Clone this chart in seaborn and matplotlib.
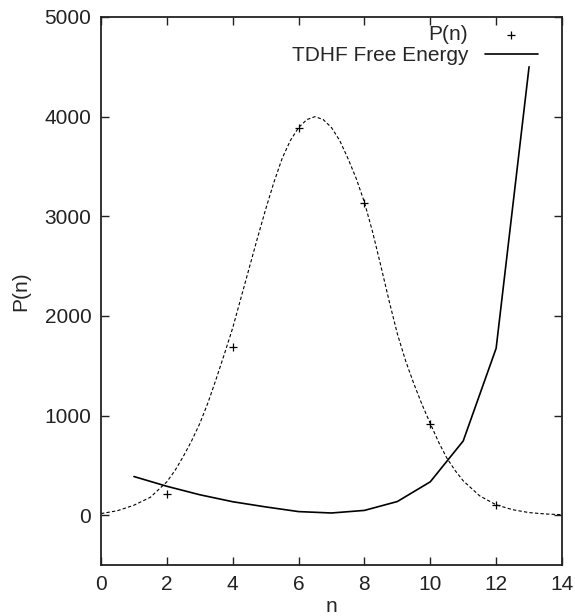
import numpy as np
import pandas as pd
import matplotlib
matplotlib.use("Agg")
import matplotlib.pyplot as plt
import seaborn as sns

# Measured P(n) points
n_points = [2, 4, 6, 8, 10, 12]
p_points = [210, 1690, 3890, 3135, 920, 104]

# TDHF free energy (solid line)
n_tdhf = [1, 2, 3, 4, 5, 6, 7, 8, 9, 10, 11, 12, 13]
e_tdhf = [388, 290, 205, 135, 83, 36, 22, 48, 137, 335, 745, 1675, 4500]

# Fitted curve (dashed)
n_fit = [0, 0.5, 1, 1.5, 2, 2.25, 2.5, 2.75, 3, 3.25, 3.5, 3.75, 4, 4.25, 4.5, 4.75,
         5, 5.25, 5.5, 5.75, 6, 6.25, 6.5, 6.75, 7, 7.25, 7.5, 7.75, 8, 8.25, 8.5,
         8.75, 9, 9.25, 9.5, 9.75, 10, 10.25, 10.5, 10.75, 11, 11.5, 12, 12.5, 13,
         13.5, 14]
p_fit = [16, 45, 100, 180, 335, 450, 590, 745, 920, 1130, 1370, 1620, 1880, 2180, 2480, 2780,
         3070, 3340, 3580, 3760, 3890, 3970, 4000, 3970, 3890, 3760, 3580, 3380, 3140, 2840, 2500,
         2150, 1820, 1550, 1320, 1110, 920, 735, 575, 450, 345, 194, 104, 55, 26,
         12, 5]

x_ticks = [0, 2, 4, 6, 8, 10, 12, 14]
y_ticks = [0, 1000, 2000, 3000, 4000, 5000]

sns.set_theme(style="ticks")
plt.rcParams['font.family'] = ['Liberation Sans', 'DejaVu Sans']

fig = plt.figure(figsize=(5.75, 6.16), dpi=100)
ax = fig.add_axes([101/575, 1-565/616, 461/575, 548/616])

fit_df = pd.DataFrame({"n": n_fit, "P": p_fit})
tdhf_df = pd.DataFrame({"n": n_tdhf, "E": e_tdhf})
pts_df = pd.DataFrame({"n": n_points, "P": p_points})

sns.lineplot(data=fit_df, x="n", y="P", ax=ax, color="black", lw=0.8,
             linestyle=(0, (3, 2)), legend=False)
sns.lineplot(data=tdhf_df, x="n", y="E", ax=ax, color="black", lw=1.2,
             label="TDHF Free Energy")
sns.scatterplot(data=pts_df, x="n", y="P", ax=ax, marker="+", color="black",
                s=40, linewidth=0.9, label="P(n)", zorder=5)

ax.set_xlim(0, 14)
ax.set_ylim(-500, 5000)
ax.set_xticks(x_ticks)
ax.set_yticks(y_ticks)
ax.set_xlabel("n", fontsize=15, labelpad=2)
ax.set_ylabel("P(n)", fontsize=15, labelpad=10)
ax.tick_params(axis="both", which="both", direction="in", length=6, width=1,
               top=True, right=True, labelsize=15, colors="#222222", pad=7)
for sp in ax.spines.values():
    sp.set_visible(True)
    sp.set_linewidth(1.3)
    sp.set_color("#222222")

h, l = ax.get_legend_handles_labels()
order = [l.index("P(n)"), l.index("TDHF Free Energy")]
leg = ax.legend([h[i] for i in order], [l[i] for i in order],
                loc="upper right", bbox_to_anchor=(0.948, 0.985),
                frameon=False, markerfirst=False, fontsize=15,
                handlelength=2.55, handletextpad=0.8, labelspacing=0.1,
                borderpad=0, borderaxespad=0)

fig.savefig("out.png", dpi=100)
